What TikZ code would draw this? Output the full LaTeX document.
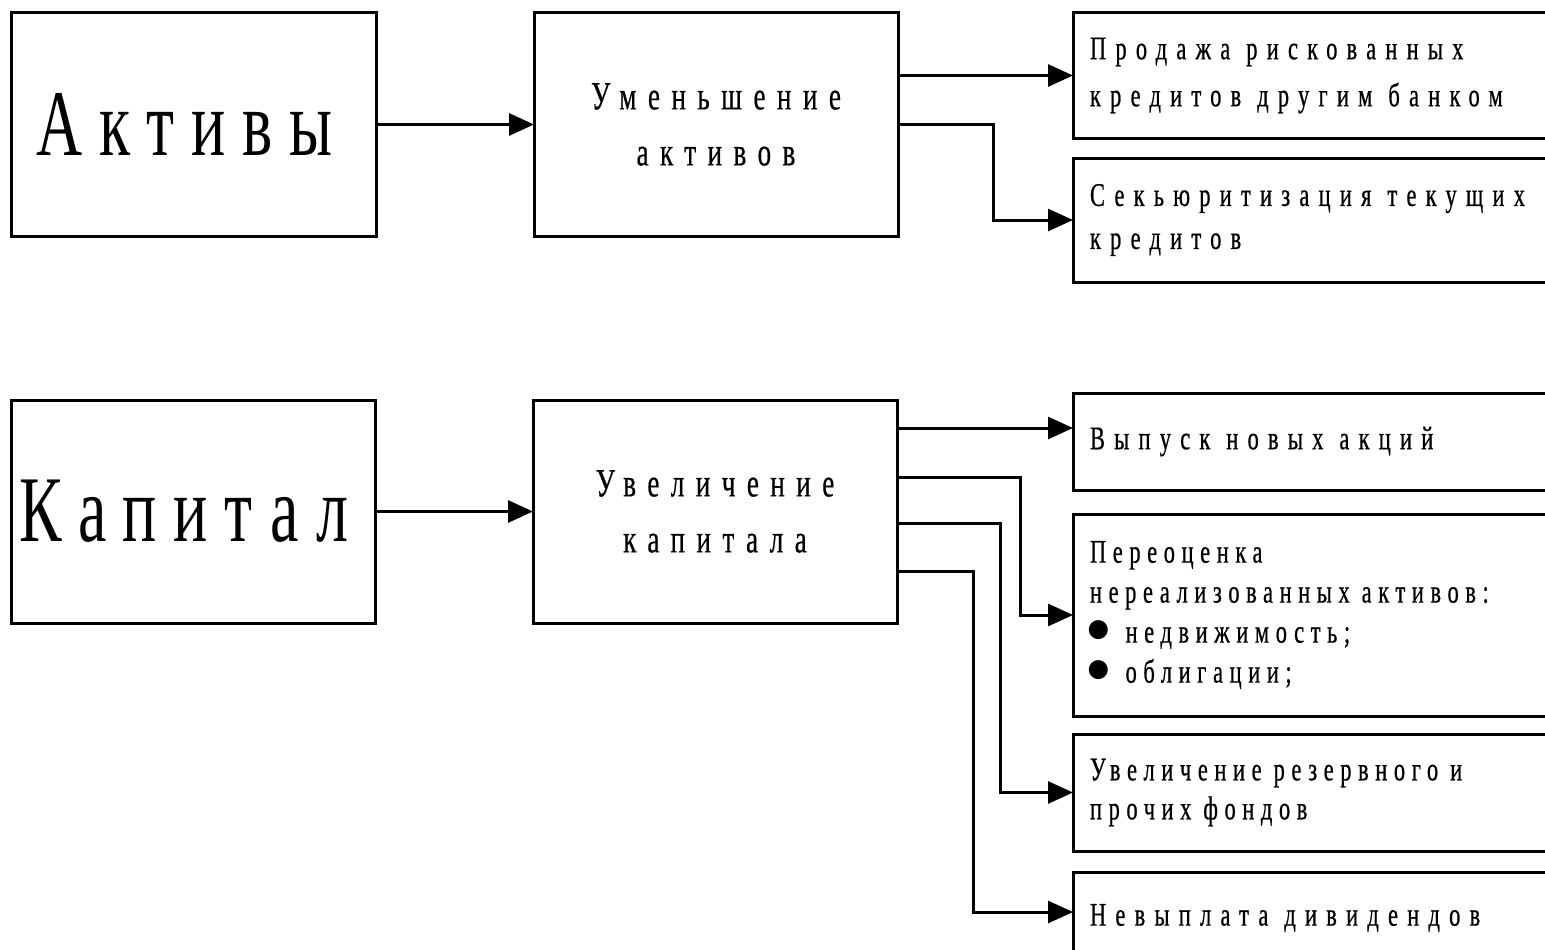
\documentclass[tikz,border=0pt]{standalone}
\usepackage{fontspec}
\setmainfont{Liberation Serif}
\newfontfamily\cf[FakeStretch=0.68,LetterSpace=28,FakeBold=0.6]{Liberation Serif}
\newfontfamily\cfn[FakeStretch=0.68,LetterSpace=20,FakeBold=0.6]{Liberation Serif}
\newfontfamily\mcf[FakeStretch=0.68,LetterSpace=28.5,FakeBold=0.4]{Liberation Serif}
\newfontfamily\bigcf[FakeStretch=0.68,LetterSpace=18]{Liberation Serif}
\newfontfamily\plainf{Liberation Serif}
\usetikzlibrary{arrows.meta}
\newcommand{\bul}{\hspace*{-5pt}\smash{\plainf\fontsize{44}{44}\selectfont ●}\hspace{14pt}}
\newcommand{\wsA}{\spaceskip=16pt\relax}
\newcommand{\wsB}{\spaceskip=12pt\relax}
\begin{document}
\begin{tikzpicture}[x=1pt,y=-1pt,
  box/.style={draw, line width=3pt, inner sep=0pt, outer sep=0pt, align=center},
  rbox/.style={draw, line width=3pt, inner xsep=17pt, inner ysep=0pt, outer sep=0pt,
     anchor=west, text width=493pt, align=left},
  arr/.style={line width=3pt, -{Triangle[length=25pt,width=22pt]}},
  big/.style={font=\bigcf\fontsize{94}{100}\selectfont},
  med/.style={font=\mcf\fontsize{40}{56}\selectfont},
  sm/.style={font=\cf\fontsize{33}{#1}\selectfont, execute at begin node=\wsA},
  sm/.default=40,
  smn/.style={font=\cfn\fontsize{33}{#1}\selectfont, execute at begin node=\wsB},
  smn/.default=40]
\useasboundingbox (0,0) rectangle (1545,950);
\clip (0,0) rectangle (1545,950);
\fill[white] (0,0) rectangle (1545,950);

% top row
\node[box, big, minimum width=365pt, minimum height=223pt] (aktivy) at (193.5,124.5) {Активы\hspace{18pt}};
\node[box, med, minimum width=364pt, minimum height=223pt] (umen) at (716,124.5) {Уменьшение\\активов};
\node[rbox, sm=47, minimum height=125pt] (prod) at (1073,75.5) {Продажа рискованных\\кредитов другим банком};
\node[rbox, sm=43, minimum height=124pt] (sek) at (1073,220) {Секьюритизация текущих\\кредитов};

% bottom row
\node[box, big, minimum width=364pt, minimum height=223pt] (kap) at (193,511.5) {Капитал\hspace{18pt}};
\node[box, med, minimum width=364pt, minimum height=223pt] (uvel) at (715,511.5) {Увеличение\\капитала};
\node[rbox, sm, minimum height=97pt] (vyp) at (1073,441.5) {Выпуск новых акций};
\node[rbox, smn=40, minimum height=202pt] (pere) at (1073,615) {Переоценка\\нереализованных активов:\\\bul недвижимость;\\\bul облигации;};
\node[rbox, smn=39, minimum height=117pt] (rez) at (1073,792.5) {Увеличение резервного и\\прочих фондов};
\node[rbox, sm, minimum height=92pt] (nev) at (1073,918) {Невыплата дивидендов};

% coordinates
\coordinate (vin) at (1073,428);
\coordinate (nin) at (1073,912);
\coordinate (u2) at (897,477);
\coordinate (u3) at (897,523);
\coordinate (u4) at (897,571);

% connectors
\draw[arr] (aktivy.east) -- (umen.west);
\draw[arr] (umen.east |- prod.west) -- (prod.west);
\draw[arr] (umen.east) -- (993,124.5) |- (sek.west);

\draw[arr] (kap.east) -- (uvel.west);
\draw[arr] (uvel.east |- vin) -- (vin);
\draw[arr] (u2) -- (1020,477) |- (pere.west);
\draw[arr] (u3) -- (1000,523) |- (rez.west);
\draw[arr] (u4) -- (973,571) |- (nin);
\end{tikzpicture}
\end{document}
